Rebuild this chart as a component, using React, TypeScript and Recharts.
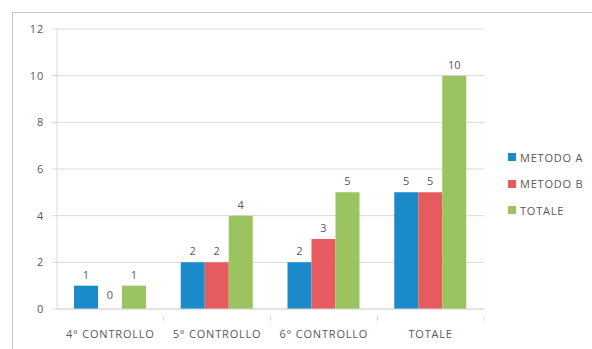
import { BarChart, Bar, XAxis, YAxis, CartesianGrid, Rectangle } from "recharts";

const categories = ["4° CONTROLLO", "5° CONTROLLO", "6° CONTROLLO", "TOTALE"];
const metodoA = [1, 2, 2, 5];
const metodoB = [0, 2, 3, 5];
const totale = [1, 4, 5, 10];
const yTicks = [0, 2, 4, 6, 8, 10, 12];

const series = [
  { key: "metodoA", name: "METODO A", color: "#1b8ac8" },
  { key: "metodoB", name: "METODO B", color: "#e65c5e" },
  { key: "totale", name: "TOTALE", color: "#9bc35f" },
];

const data = categories.map((name, i) => ({
  name,
  metodoA: metodoA[i],
  metodoB: metodoB[i],
  totale: totale[i],
}));

const W = 592;
const H = 349;
const PLOT_LEFT = 57;
const PLOT_RIGHT = 484;
const FONT = "'Open Sans', sans-serif";
const TEXT = "#595959";
const GRID = "#d9d9d9";
const SPACING = 0.8;

const band = (PLOT_RIGHT - PLOT_LEFT) / categories.length;

// category label plus the divider tick on the right edge of each band
function CategoryTick(props: any) {
  const { x, y, payload } = props;
  return (
    <g>
      <line x1={x + band / 2} x2={x + band / 2} y1={y - 1} y2={y + 4} stroke={GRID} />
      <text
        x={x}
        y={y + 21}
        textAnchor="middle"
        fill={TEXT}
        fontSize={11}
        fontFamily={FONT}
        letterSpacing={SPACING}
      >
        {payload.value}
      </text>
    </g>
  );
}

// bar rectangle with its value written above, zero-height bars included
function LabeledBar(props: any) {
  const { x, y, width, height, fill, value } = props;
  const v = Array.isArray(value) ? value[1] - value[0] : value;
  return (
    <g>
      {height > 0 && <Rectangle x={x} y={y} width={width} height={height} fill={fill} />}
      <text
        x={x + width / 2}
        y={height > 0 ? y - 7 : y - 10}
        textAnchor="middle"
        fill={TEXT}
        fontSize={11}
        fontFamily={FONT}
      >
        {v}
      </text>
    </g>
  );
}

function SideLegend() {
  return (
    <div
      style={{
        position: "absolute",
        left: 508,
        top: 144,
        fontFamily: FONT,
        fontSize: 11,
        letterSpacing: SPACING,
        color: TEXT,
      }}
    >
      {series.map((s) => (
        <div key={s.key} style={{ display: "flex", alignItems: "center", height: 26.5 }}>
          <span style={{ width: 8, height: 8, background: s.color, marginRight: 4 }} />
          {s.name}
        </div>
      ))}
    </div>
  );
}

export default function App() {
  return (
    <div style={{ position: "fixed", left: 0, top: 0, width: W, height: H, background: "#fff", overflow: "hidden" }}>
      <div
        style={{
          position: "absolute",
          left: 12,
          top: 12,
          width: 640,
          height: 400,
          border: "1.5px solid #c6c6c6",
        }}
      />
      <BarChart
        width={W}
        height={H}
        data={data}
        margin={{ top: 29, right: W - PLOT_RIGHT, bottom: 10, left: 0 }}
        barSize={24}
        barGap={0}
        style={{ position: "absolute", left: 0, top: 0 }}
      >
        <CartesianGrid vertical={false} stroke={GRID} />
        <XAxis
          dataKey="name"
          stroke={GRID}
          tickLine={false}
          tick={<CategoryTick />}
          interval={0}
          height={30}
        />
        <YAxis
          width={PLOT_LEFT}
          domain={[0, 12]}
          ticks={yTicks}
          stroke={GRID}
          tickSize={5}
          tickMargin={8}
          tick={{ fill: TEXT, fontSize: 11, fontFamily: FONT, letterSpacing: SPACING }}
        />
        {series.map((s) => (
          <Bar
            key={s.key}
            dataKey={s.key}
            name={s.name}
            fill={s.color}
            isAnimationActive={false}
            shape={<LabeledBar />}
          />
        ))}
      </BarChart>
      <SideLegend />
    </div>
  );
}
